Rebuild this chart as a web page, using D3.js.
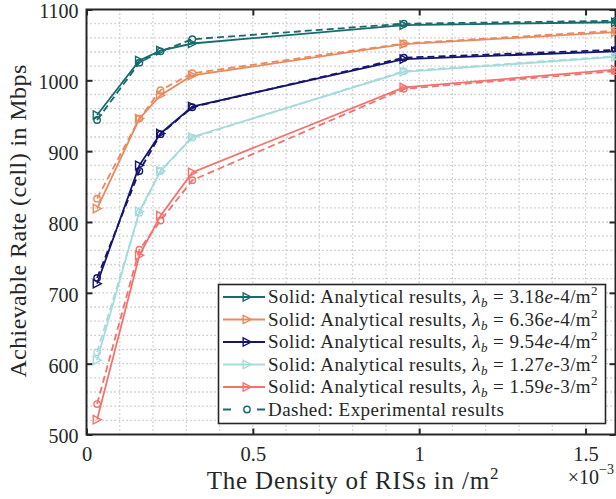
<!DOCTYPE html>
<html>
<head>
<meta charset="utf-8">
<script src="https://cdn.jsdelivr.net/npm/d3@7"></script>
<style>
  html, body { margin: 0; padding: 0; background: #fff; }
  svg text { font-family: "Liberation Serif" !important; fill: #262626; }
</style>
</head>
<body>
<svg id="chart" width="616" height="499"></svg>
<script>
// RIS density (per m^2) at which the rate was evaluated
const risDensity = [3.18e-5, 1.59e-4, 2.226e-4, 3.18e-4, 9.54e-4, 1.59e-3];

// BS densities of the five curves (mantissa, exponent)
const bsMantissa = ["3.18", "6.36", "9.54", "1.27", "1.59"];
const bsExponent = ["-4", "-4", "-4", "-3", "-3"];

// Analytical results (solid), Mbps
const analytical318 = [951, 1028, 1042, 1052, 1078, 1082];
const analytical636 = [819, 946, 979, 1007, 1051, 1068];
const analytical954 = [713, 880, 925, 963, 1030, 1041];
const analytical127 = [605, 815, 872, 920, 1012, 1033];
const analytical159 = [521, 753, 809, 870, 990, 1015];

// Experimental results (dashed), Mbps
const experimental318 = [944, 1025, 1041, 1058, 1080, 1084];
const experimental636 = [833, 946, 986, 1010, 1052, 1070];
const experimental954 = [721, 872, 924, 962, 1032, 1043];
const experimental127 = [616, 813, 872, 919, 1013, 1034];
const experimental159 = [543, 761, 802, 859, 988, 1013];

const xTicks = [0, 0.5e-3, 1e-3, 1.5e-3];
const xTickLabels = ["0", "0.5", "1", "1.5"];
const yTicks = [500, 600, 700, 800, 900, 1000, 1100];

const colors = ["#176b6c", "#ea8a5f", "#16156e", "#a6dbdb", "#f4726d"];

const analytical = [analytical318, analytical636, analytical954, analytical127, analytical159];
const experimental = [experimental318, experimental636, experimental954, experimental127, experimental159];

const FONT = "Liberation Serif";
const svg = d3.select("#chart");
const L = 86.5, R = 615.5, T = 9.5, B = 434.5;

const x = d3.scaleLinear().domain([0, 1.59e-3]).range([L, R]);
const y = d3.scaleLinear().domain([500, 1100]).range([B, T]);

// Dotted grid: every 0.1e-3 horizontally, every 20 Mbps vertically
const grid = svg.append("g").attr("stroke", "#bdbdbd").attr("stroke-width", 1.3)
  .attr("stroke-dasharray", "1.3,2.7");
d3.range(1, 16).forEach(i => {
  const gx = x(i * 1e-4);
  grid.append("line").attr("x1", gx).attr("x2", gx).attr("y1", T).attr("y2", B);
});
d3.range(520, 1100, 20).forEach(v => {
  grid.append("line").attr("x1", L).attr("x2", R).attr("y1", y(v)).attr("y2", y(v));
});

// Axes with inward ticks on all four sides
const fmtX = d => xTickLabels[xTicks.indexOf(d)];
const axB = svg.append("g").attr("transform", `translate(0,${B})`)
  .call(d3.axisBottom(x).tickValues(xTicks).tickFormat(fmtX).tickSizeInner(-6).tickSizeOuter(0).tickPadding(12));
const axT = svg.append("g").attr("transform", `translate(0,${T})`)
  .call(d3.axisTop(x).tickValues(xTicks).tickFormat("").tickSizeInner(-6).tickSizeOuter(0));
const axL = svg.append("g").attr("transform", `translate(${L},0)`)
  .call(d3.axisLeft(y).tickValues(yTicks).tickFormat(d3.format("d")).tickSizeInner(-6).tickSizeOuter(0).tickPadding(8));
const axR = svg.append("g").attr("transform", `translate(${R},0)`)
  .call(d3.axisRight(y).tickValues(yTicks).tickFormat("").tickSizeInner(-6).tickSizeOuter(0));
[axB, axT, axL, axR].forEach(a => {
  a.attr("font-family", FONT);
  a.select(".domain").remove();
  a.selectAll(".tick line").attr("stroke", "#262626").attr("stroke-width", 2);
  a.selectAll(".tick text").style("font-size", "20.5px").attr("fill", "#262626");
});
axL.selectAll(".tick text").style("font-size", "20px").attr("dy", "0.42em");

// Frame
svg.append("rect").attr("x", L).attr("y", T).attr("width", R - L).attr("height", B - T)
  .attr("fill", "none").attr("stroke", "#262626").attr("stroke-width", 2);

// Curves
const line = d3.line().x((d, i) => x(risDensity[i])).y(d => y(d));
const triPath = s => `M${-s * 0.55},${-s * 0.6}L${s * 0.6},0L${-s * 0.55},${s * 0.6}Z`;

const curves = svg.append("g");
analytical.forEach((vals, k) => {
  const g = curves.append("g");
  g.append("path").datum(vals).attr("d", line).attr("fill", "none")
    .attr("stroke", colors[k]).attr("stroke-width", 1.8);
  g.selectAll("path.tri").data(vals).join("path").attr("class", "tri")
    .attr("d", triPath(7))
    .attr("transform", (d, i) => `translate(${x(risDensity[i])},${y(d)})`)
    .attr("fill", "none").attr("stroke", colors[k]).attr("stroke-width", 1.4);
  const e = experimental[k];
  g.append("path").datum(e).attr("d", line).attr("fill", "none")
    .attr("stroke", colors[k]).attr("stroke-width", 1.8).attr("stroke-dasharray", "7,4");
  g.selectAll("circle").data(e).join("circle")
    .attr("cx", (d, i) => x(risDensity[i])).attr("cy", d => y(d)).attr("r", 3.2)
    .attr("fill", "none").attr("stroke", colors[k]).attr("stroke-width", 1.4);
});

// Legend
const lg = svg.append("g").attr("font-family", FONT);
lg.append("rect").attr("x", 218.5).attr("y", 284.5).attr("width", 387).attr("height", 139)
  .attr("fill", "#fff").attr("stroke", "#262626").attr("stroke-width", 1.6);
const rowY = i => 297 + i * 22.5;
bsMantissa.forEach((m, k) => {
  const cy = rowY(k);
  lg.append("line").attr("x1", 223).attr("x2", 265).attr("y1", cy).attr("y2", cy)
    .attr("stroke", colors[k]).attr("stroke-width", 1.8);
  lg.append("path").attr("d", triPath(7)).attr("transform", `translate(247,${cy})`)
    .attr("fill", "none").attr("stroke", colors[k]).attr("stroke-width", 1.4);
  const t = lg.append("text").attr("x", 268).attr("y", cy + 6)
    .style("font-size", "19px").style("letter-spacing", "0.45px");
  t.append("tspan").text("Solid: Analytical results, ");
  t.append("tspan").style("font-style", "italic").text("λ");
  t.append("tspan").style("font-style", "italic").style("font-size", "13px").attr("dy", 4).text("b");
  t.append("tspan").attr("dy", -4).text(" = " + m);
  t.append("tspan").style("font-style", "italic").text("e");
  t.append("tspan").text(bsExponent[k] + "/m");
  t.append("tspan").style("font-size", "13px").attr("dy", -8).text("2");
});
{
  const cy = rowY(5);
  lg.append("line").attr("x1", 223).attr("x2", 265).attr("y1", cy).attr("y2", cy)
    .attr("stroke", colors[0]).attr("stroke-width", 1.8).attr("stroke-dasharray", "8,26,8");
  lg.append("circle").attr("cx", 247).attr("cy", cy).attr("r", 3.2)
    .attr("fill", "none").attr("stroke", colors[0]).attr("stroke-width", 1.4);
  lg.append("text").attr("x", 268).attr("y", cy + 6)
    .style("font-size", "19px").style("letter-spacing", "0.45px")
    .text("Dashed: Experimental results");
}

// Axis titles
const xl = svg.append("text").attr("x", (L + R) / 2 + 2).attr("y", 489).attr("text-anchor", "middle")
  .attr("font-family", FONT).style("font-size", "25px").style("letter-spacing", "0.8px");
xl.append("tspan").text("The Density of RISs in /m");
xl.append("tspan").style("font-size", "17px").attr("dy", -10).text("2");

const ex = svg.append("text").attr("x", 614).attr("y", 484).attr("text-anchor", "end")
  .attr("font-family", FONT).style("font-size", "20px");
ex.append("tspan").text("×10");
ex.append("tspan").style("font-size", "14px").attr("dy", -10).text("−3");

svg.append("text").attr("transform", "translate(26,221) rotate(-90)").attr("text-anchor", "middle")
  .attr("font-family", FONT).style("font-size", "24px").style("letter-spacing", "0.4px")
  .text("Achievable Rate (cell) in Mbps");
</script>
</body>
</html>
